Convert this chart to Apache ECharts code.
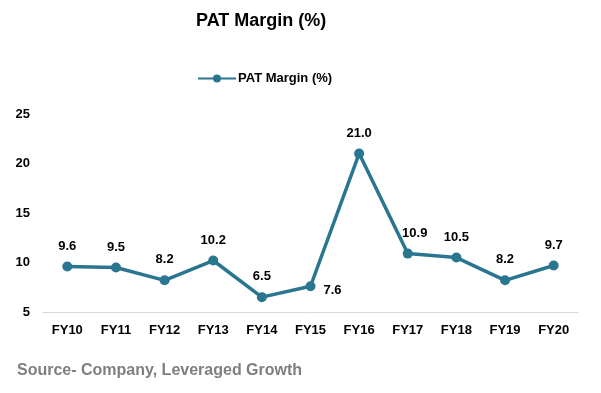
<!DOCTYPE html>
<html><head><meta charset="utf-8">
<script src="https://cdn.jsdelivr.net/npm/echarts@6/dist/echarts.min.js"></script>
<style>html,body{margin:0;padding:0;background:#fff}#c{width:601px;height:393px}</style>
</head><body><div id="c"></div>
<script>
const categories = ['FY10','FY11','FY12','FY13','FY14','FY15','FY16','FY17','FY18','FY19','FY20'];
const values = [9.6, 9.5, 8.2, 10.2, 6.5, 7.6, 21.0, 10.9, 10.5, 8.2, 9.7];
const yTicks = [5, 10, 15, 20, 25];
const seriesName = 'PAT Margin (%)';

const chart = echarts.init(document.getElementById('c'));
const font = 'Arial, "Liberation Sans", sans-serif';
const seriesData = values.map((v, i) => {
  if (i === 5) return { value: v, label: { position: 'right', distance: 8, offset: [0, 4] } };
  if (i === 7) return { value: v, label: { offset: [7, 0] } };
  return v;
});
chart.setOption({
  animation: false,
  title: { text: 'PAT Margin (%)', left: 196, top: 12, padding: 0,
    textStyle: { fontFamily: font, fontSize: 18, fontWeight: 'bold', color: '#000' } },
  legend: { top: 72, left: 197, padding: 0, itemWidth: 38, itemHeight: 10, itemGap: 5,
    textStyle: { fontFamily: font, fontSize: 13, fontWeight: 'bold', color: '#000', padding: [0, 0, 0, -3] },
    data: [seriesName] },
  graphic: [{ type: 'text', left: 17, top: 363,
    style: { text: 'Source- Company, Leveraged Growth', fontFamily: font, fontSize: 16, fontWeight: 'bold', fill: '#7f7f7f' } }],
  grid: { left: 43, right: 23, top: 114, bottom: 81 },
  xAxis: { type: 'category', data: categories, boundaryGap: true,
    axisLine: { lineStyle: { color: '#d9d9d9', width: 1 } }, axisTick: { show: false },
    axisLabel: { fontFamily: font, fontSize: 13, fontWeight: 'bold', color: '#000', margin: 12 } },
  yAxis: { type: 'value', min: yTicks[0], max: yTicks[yTicks.length-1], interval: 5,
    splitLine: { show: false }, axisLine: { show: false }, axisTick: { show: false },
    axisLabel: { fontFamily: font, fontSize: 13, fontWeight: 'bold', color: '#000', margin: 13 } },
  series: [{ name: seriesName, type: 'line', data: seriesData,
    symbol: 'circle', symbolSize: 10,
    lineStyle: { color: '#2a7690', width: 3.5 }, itemStyle: { color: '#2a7690' },
    label: { show: true, position: 'top', distance: 9, formatter: p => p.value.toFixed(1),
      fontFamily: font, fontSize: 13, fontWeight: 'bold', color: '#000' } }]
});
</script></body></html>
